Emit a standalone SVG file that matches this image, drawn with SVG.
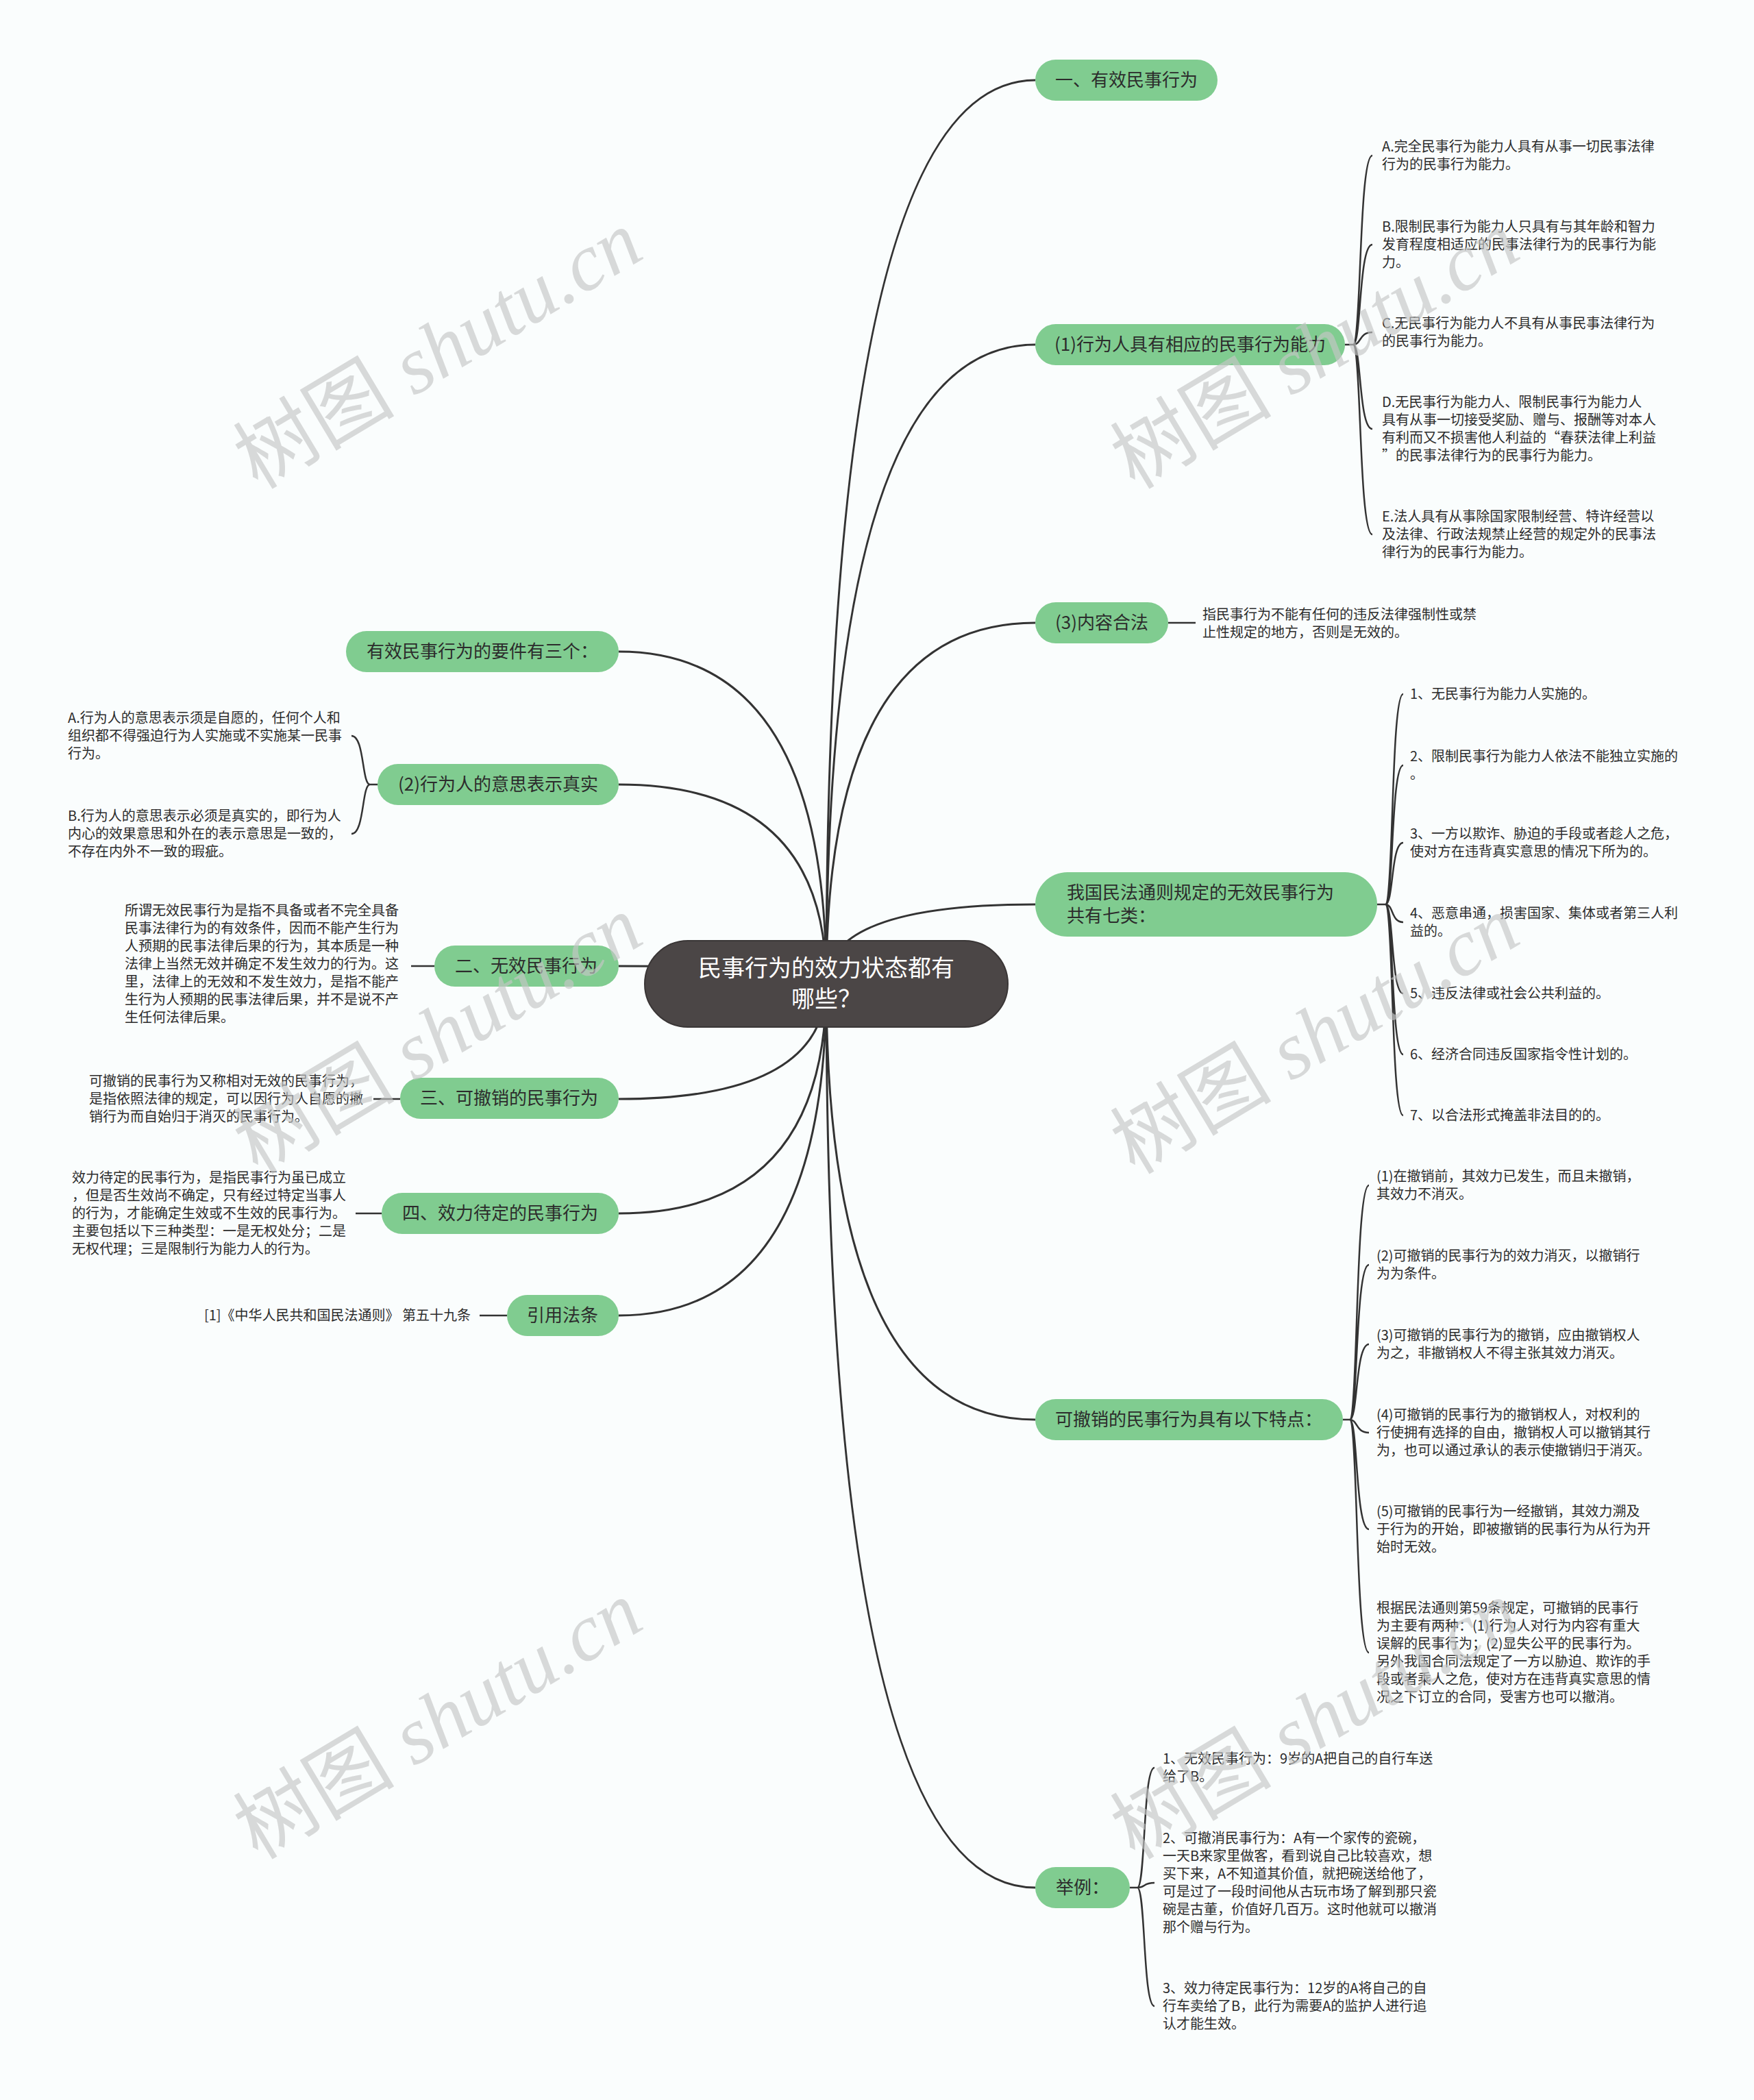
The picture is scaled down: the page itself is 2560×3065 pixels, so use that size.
<svg xmlns="http://www.w3.org/2000/svg" width="2560" height="3065" viewBox="0 0 2560 3065">
<style>
.bg{fill:#fafdfd}
.wm{font-family:"Liberation Serif","Noto Sans CJK SC",serif;font-style:italic;font-size:118px;fill:#c4c6c6;fill-opacity:0.65;text-anchor:middle}
.link{fill:none;stroke:#333333;stroke-width:3}
.br{fill:none;stroke:#333333;stroke-width:2.5}
.node rect{fill:#80cc90}
.nt{font-family:"Noto Sans CJK SC",sans-serif;font-size:26px;fill:#2c2c2c;text-anchor:middle}
.nl{font-family:"Noto Sans CJK SC",sans-serif;font-size:26px;fill:#2c2c2c}
.leaf{font-family:"Noto Sans CJK SC",sans-serif;font-size:20px;fill:#2c2c2c}
.root rect{fill:#4b4646;stroke:#3a3636;stroke-width:2}
.rt{font-family:"Noto Sans CJK SC",sans-serif;font-size:34px;fill:#ffffff;text-anchor:middle}
</style>
<rect class="bg" x="0" y="0" width="2560" height="3065"/>

<g id="connectors">
  <path class="link" d="M1206 1435 Q1206 117 1511 117"/>
  <path class="link" d="M1206 1435 Q1206 503 1511 503"/>
  <path class="link" d="M1206 1435 Q1206 909 1511 909"/>
  <path class="link" d="M1206 1435 Q1206 1320 1511 1320"/>
  <path class="link" d="M1206 1435 Q1206 2072 1511 2072"/>
  <path class="link" d="M1206 1435 Q1206 2755 1511 2755"/>
  <path class="link" d="M1206 1435 Q1206 951 903 951"/>
  <path class="link" d="M1206 1435 Q1206 1145 903 1145"/>
  <path class="link" d="M1206 1435 Q1206 1410 903 1410"/>
  <path class="link" d="M1206 1435 Q1206 1604 903 1604"/>
  <path class="link" d="M1206 1435 Q1206 1771 903 1771"/>
  <path class="link" d="M1206 1435 Q1206 1920 903 1920"/>

  <path class="br" d="M1705 909 L1745 909"/>
  <path class="br" d="M634 1410 L600 1410"/>
  <path class="br" d="M584 1604 L545 1604"/>
  <path class="br" d="M557 1771 L519 1771"/>
  <path class="br" d="M740 1920 L700 1920"/>

  <path class="br" d="M1963 503 L1975 503 C1987 503 1983 227 2003 227 M1975 503 C1987 503 1983 357 2003 357 M1975 503 C1987 503 1983 485 2003 485 M1975 503 C1987 503 1983 626 2003 626 M1975 503 C1987 503 1983 780 2003 780"/>
  <path class="br" d="M2010 1320 L2022 1320 C2034 1320 2030 1013 2048 1013 M2022 1320 C2034 1320 2030 1117 2048 1117 M2022 1320 C2034 1320 2030 1230 2048 1230 M2022 1320 C2034 1320 2030 1346 2048 1346 M2022 1320 C2034 1320 2030 1450 2048 1450 M2022 1320 C2034 1320 2030 1539 2048 1539 M2022 1320 C2034 1320 2030 1628 2048 1628"/>
  <path class="br" d="M1960 2072 L1970 2072 C1982 2072 1978 1730 1998 1730 M1970 2072 C1982 2072 1978 1846 1998 1846 M1970 2072 C1982 2072 1978 1962 1998 1962 M1970 2072 C1982 2072 1978 2091 1998 2091 M1970 2072 C1982 2072 1978 2232 1998 2232 M1970 2072 C1982 2072 1978 2412 1998 2412"/>
  <path class="br" d="M1649 2755 L1660 2755 C1672 2755 1668 2580 1685 2580 M1660 2755 C1672 2755 1668 2748 1685 2748 M1660 2755 C1672 2755 1668 2928 1685 2928"/>
  <path class="br" d="M551 1145 L540 1145 C528 1145 532 1074 513 1074 M540 1145 C528 1145 532 1217 513 1217"/>
</g>

<g id="root" class="root">
  <rect x="941" y="1373" width="530" height="126" rx="63"/>
  <text class="rt" x="1206" y="1425">民事行为的效力状态都有</text>
  <text class="rt" x="1206" y="1470">哪些？</text>
</g>

<g id="n1" class="node">
  <rect x="1511" y="87" width="266" height="60" rx="30"/>
  <text class="nt" x="1644" y="126">一、有效民事行为</text>
</g>

<g id="n2" class="node">
  <rect x="1511" y="473" width="452" height="60" rx="30"/>
  <text class="nt" x="1737" y="512">(1)行为人具有相应的民事行为能力</text>
</g>
<g id="n2-leaves" class="leaf">
  <text x="2017" y="221">A.完全民事行为能力人具有从事一切民事法律</text>
  <text x="2017" y="247">行为的民事行为能力。</text>
  <text x="2017" y="338">B.限制民事行为能力人只具有与其年龄和智力</text>
  <text x="2017" y="364">发育程度相适应的民事法律行为的民事行为能</text>
  <text x="2017" y="390">力。</text>
  <text x="2017" y="479">C.无民事行为能力人不具有从事民事法律行为</text>
  <text x="2017" y="505">的民事行为能力。</text>
  <text x="2017" y="594">D.无民事行为能力人、限制民事行为能力人</text>
  <text x="2017" y="620">具有从事一切接受奖励、赠与、报酬等对本人</text>
  <text x="2017" y="646">有利而又不损害他人利益的“春获法律上利益</text>
  <text x="2017" y="672">”的民事法律行为的民事行为能力。</text>
  <text x="2017" y="761">E.法人具有从事除国家限制经营、特许经营以</text>
  <text x="2017" y="787">及法律、行政法规禁止经营的规定外的民事法</text>
  <text x="2017" y="813">律行为的民事行为能力。</text>
</g>

<g id="n3" class="node">
  <rect x="1511" y="879" width="194" height="60" rx="30"/>
  <text class="nt" x="1608" y="918">(3)内容合法</text>
</g>
<g id="n3-leaf" class="leaf">
  <text x="1755" y="904">指民事行为不能有任何的违反法律强制性或禁</text>
  <text x="1755" y="930">止性规定的地方，否则是无效的。</text>
</g>

<g id="n4" class="node">
  <rect x="1511" y="1273" width="499" height="94" rx="47"/>
  <text class="nl" x="1557" y="1312">我国民法通则规定的无效民事行为</text>
  <text class="nl" x="1557" y="1346">共有七类：</text>
</g>
<g id="n4-leaves" class="leaf">
  <text x="2058" y="1020">1、无民事行为能力人实施的。</text>
  <text x="2058" y="1111">2、限制民事行为能力人依法不能独立实施的</text>
  <text x="2058" y="1137">。</text>
  <text x="2058" y="1224">3、一方以欺诈、胁迫的手段或者趁人之危，</text>
  <text x="2058" y="1250">使对方在违背真实意思的情况下所为的。</text>
  <text x="2058" y="1340">4、恶意串通，损害国家、集体或者第三人利</text>
  <text x="2058" y="1366">益的。</text>
  <text x="2058" y="1457">5、违反法律或社会公共利益的。</text>
  <text x="2058" y="1546">6、经济合同违反国家指令性计划的。</text>
  <text x="2058" y="1635">7、以合法形式掩盖非法目的的。</text>
</g>

<g id="n5" class="node">
  <rect x="1511" y="2042" width="449" height="60" rx="30"/>
  <text class="nt" x="1735" y="2081">可撤销的民事行为具有以下特点：</text>
</g>
<g id="n5-leaves" class="leaf">
  <text x="2009" y="1724">(1)在撤销前，其效力已发生，而且未撤销，</text>
  <text x="2009" y="1750">其效力不消灭。</text>
  <text x="2009" y="1840">(2)可撤销的民事行为的效力消灭，以撤销行</text>
  <text x="2009" y="1866">为为条件。</text>
  <text x="2009" y="1956">(3)可撤销的民事行为的撤销，应由撤销权人</text>
  <text x="2009" y="1982">为之，非撤销权人不得主张其效力消灭。</text>
  <text x="2009" y="2072">(4)可撤销的民事行为的撤销权人，对权利的</text>
  <text x="2009" y="2098">行使拥有选择的自由，撤销权人可以撤销其行</text>
  <text x="2009" y="2124">为，也可以通过承认的表示使撤销归于消灭。</text>
  <text x="2009" y="2213">(5)可撤销的民事行为一经撤销，其效力溯及</text>
  <text x="2009" y="2239">于行为的开始，即被撤销的民事行为从行为开</text>
  <text x="2009" y="2265">始时无效。</text>
  <text x="2009" y="2354">根据民法通则第59条规定，可撤销的民事行</text>
  <text x="2009" y="2380">为主要有两种：(1)行为人对行为内容有重大</text>
  <text x="2009" y="2406">误解的民事行为；(2)显失公平的民事行为。</text>
  <text x="2009" y="2432">另外我国合同法规定了一方以胁迫、欺诈的手</text>
  <text x="2009" y="2458">段或者乘人之危，使对方在违背真实意思的情</text>
  <text x="2009" y="2484">况之下订立的合同，受害方也可以撤消。</text>
</g>

<g id="n6" class="node">
  <rect x="1511" y="2725" width="138" height="60" rx="30"/>
  <text class="nt" x="1580" y="2764">举例：</text>
</g>
<g id="n6-leaves" class="leaf">
  <text x="1697" y="2574">1、无效民事行为：9岁的A把自己的自行车送</text>
  <text x="1697" y="2600">给了B。</text>
  <text x="1697" y="2690">2、可撤消民事行为：A有一个家传的瓷碗，</text>
  <text x="1697" y="2716">一天B来家里做客，看到说自己比较喜欢，想</text>
  <text x="1697" y="2742">买下来，A不知道其价值，就把碗送给他了，</text>
  <text x="1697" y="2768">可是过了一段时间他从古玩市场了解到那只瓷</text>
  <text x="1697" y="2794">碗是古董，价值好几百万。这时他就可以撤消</text>
  <text x="1697" y="2820">那个赠与行为。</text>
  <text x="1697" y="2909">3、效力待定民事行为：12岁的A将自己的自</text>
  <text x="1697" y="2935">行车卖给了B，此行为需要A的监护人进行追</text>
  <text x="1697" y="2961">认才能生效。</text>
</g>

<g id="n7" class="node">
  <rect x="505" y="921" width="398" height="60" rx="30"/>
  <text class="nt" x="704" y="960">有效民事行为的要件有三个：</text>
</g>

<g id="n8" class="node">
  <rect x="551" y="1115" width="352" height="60" rx="30"/>
  <text class="nt" x="727" y="1154">(2)行为人的意思表示真实</text>
</g>
<g id="n8-leaves" class="leaf">
  <text x="99" y="1055">A.行为人的意思表示须是自愿的，任何个人和</text>
  <text x="99" y="1081">组织都不得强迫行为人实施或不实施某一民事</text>
  <text x="99" y="1107">行为。</text>
  <text x="99" y="1198">B.行为人的意思表示必须是真实的，即行为人</text>
  <text x="99" y="1224">内心的效果意思和外在的表示意思是一致的，</text>
  <text x="99" y="1250">不存在内外不一致的瑕疵。</text>
</g>

<g id="n9" class="node">
  <rect x="634" y="1380" width="269" height="60" rx="30"/>
  <text class="nt" x="768" y="1419">二、无效民事行为</text>
</g>
<g id="n9-leaf" class="leaf">
  <text x="182" y="1336">所谓无效民事行为是指不具备或者不完全具备</text>
  <text x="182" y="1362">民事法律行为的有效条件，因而不能产生行为</text>
  <text x="182" y="1388">人预期的民事法律后果的行为，其本质是一种</text>
  <text x="182" y="1414">法律上当然无效并确定不发生效力的行为。这</text>
  <text x="182" y="1440">里，法律上的无效和不发生效力，是指不能产</text>
  <text x="182" y="1466">生行为人预期的民事法律后果，并不是说不产</text>
  <text x="182" y="1492">生任何法律后果。</text>
</g>

<g id="n10" class="node">
  <rect x="584" y="1573" width="319" height="60" rx="30"/>
  <text class="nt" x="743" y="1612">三、可撤销的民事行为</text>
</g>
<g id="n10-leaf" class="leaf">
  <text x="130" y="1585">可撤销的民事行为又称相对无效的民事行为，</text>
  <text x="130" y="1611">是指依照法律的规定，可以因行为人自愿的撤</text>
  <text x="130" y="1637">销行为而自始归于消灭的民事行为。</text>
</g>

<g id="n11" class="node">
  <rect x="557" y="1741" width="346" height="60" rx="30"/>
  <text class="nt" x="730" y="1780">四、效力待定的民事行为</text>
</g>
<g id="n11-leaf" class="leaf">
  <text x="105" y="1726">效力待定的民事行为，是指民事行为虽已成立</text>
  <text x="105" y="1752">，但是否生效尚不确定，只有经过特定当事人</text>
  <text x="105" y="1778">的行为，才能确定生效或不生效的民事行为。</text>
  <text x="105" y="1804">主要包括以下三种类型：一是无权处分；二是</text>
  <text x="105" y="1830">无权代理；三是限制行为能力人的行为。</text>
</g>

<g id="n12" class="node">
  <rect x="740" y="1890" width="163" height="60" rx="30"/>
  <text class="nt" x="821" y="1929">引用法条</text>
</g>
<g id="n12-leaf" class="leaf">
  <text x="298" y="1927">[1]《中华人民共和国民法通则》 第五十九条</text>
</g>

<g id="watermarks">
  <text class="wm" transform="translate(660 545) rotate(-31)"><tspan font-style="normal">树图</tspan> shutu.cn</text>
  <text class="wm" transform="translate(1940 545) rotate(-31)"><tspan font-style="normal">树图</tspan> shutu.cn</text>
  <text class="wm" transform="translate(660 1545) rotate(-31)"><tspan font-style="normal">树图</tspan> shutu.cn</text>
  <text class="wm" transform="translate(1940 1545) rotate(-31)"><tspan font-style="normal">树图</tspan> shutu.cn</text>
  <text class="wm" transform="translate(660 2545) rotate(-31)"><tspan font-style="normal">树图</tspan> shutu.cn</text>
  <text class="wm" transform="translate(1940 2545) rotate(-31)"><tspan font-style="normal">树图</tspan> shutu.cn</text>
</g>
</svg>
